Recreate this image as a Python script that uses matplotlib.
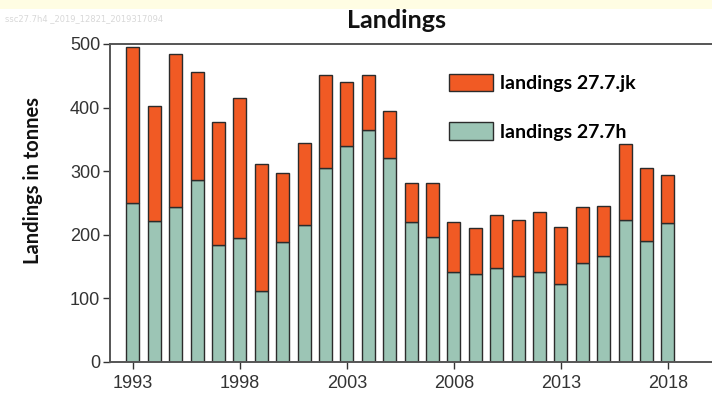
import numpy as np
import matplotlib.pyplot as plt
from matplotlib.patches import Rectangle

years = list(range(1993, 2019))
landings_h = [250, 222, 243, 286, 184, 195, 111, 188, 215, 305, 340, 365, 320,
              220, 197, 141, 139, 148, 136, 141, 122, 155, 167, 224, 191, 218]
landings_total = [495, 402, 484, 456, 377, 415, 311, 297, 344, 451, 440, 452, 395,
                  281, 281, 220, 211, 231, 223, 236, 213, 244, 246, 342, 305, 294]
landings_jk = [t - h for t, h in zip(landings_total, landings_h)]

orange = "#f15a24"
green = "#9cc5b5"
edge = "#2b2b2b"

fig = plt.figure(figsize=(7.12, 3.97), dpi=100)
fig.patch.set_facecolor("white")
fig.patches.append(Rectangle((0, 1 - 9 / 397), 1, 9 / 397, transform=fig.transFigure,
                             facecolor="#fffde3", edgecolor="none", zorder=0))
fig.text(0.007, 1 - 19 / 397, "ssc27.7h4 _2019_12821_2019317094", fontsize=6,
         color="#d8d8d8", va="center", ha="left")

ax = fig.add_axes([110 / 712, 1 - 362 / 397, 1 - 110 / 712, (362 - 44) / 397])

ax.bar(years, landings_h, width=0.6, color=green, edgecolor=edge, linewidth=1.0,
       label="landings 27.7h")
ax.bar(years, landings_jk, bottom=landings_h, width=0.6, color=orange, edgecolor=edge,
       linewidth=1.0, label="landings 27.7.jk")

ax.set_xlim(1991.93, 2020.06)
ax.set_ylim(0, 500)
ax.set_xticks([1993, 1998, 2003, 2008, 2013, 2018])
ax.set_yticks([0, 100, 200, 300, 400, 500])

for lab in ax.get_xticklabels() + ax.get_yticklabels():
    lab.set_family("Liberation Sans")
    lab.set_fontsize(13)
    lab.set_color("#333333")
ax.tick_params(axis="both", direction="out", length=5, width=1.0, color="#333333")
ax.tick_params(axis="x", pad=4)
ax.tick_params(axis="y", pad=2)

for side in ["left", "top", "bottom"]:
    ax.spines[side].set_color("#555555")
    ax.spines[side].set_linewidth(1.4)
ax.spines["right"].set_visible(False)

fig.text(397 / 712, 1 - 20 / 397, "Landings", fontsize=18, fontweight="bold",
         family="Lato", ha="center", va="center", color="#111111")
fig.text(33 / 712, 1 - 180 / 397, "Landings in tonnes", fontsize=14.5, fontweight="bold",
         family="Lato", rotation=90, ha="center", va="center", color="#111111")

handles, labels = ax.get_legend_handles_labels()
leg = ax.legend(handles[::-1], labels[::-1], loc="upper left",
                bbox_to_anchor=((431 - 110) / (712 - 110), (362 - 56) / (362 - 44)),
                frameon=False, prop={"family": "Lato", "weight": "bold", "size": 14},
                handlelength=2.3, handleheight=1.03, handletextpad=0.35,
                labelspacing=1.55, borderpad=0.4)

fig.savefig("out.png", dpi=100)
